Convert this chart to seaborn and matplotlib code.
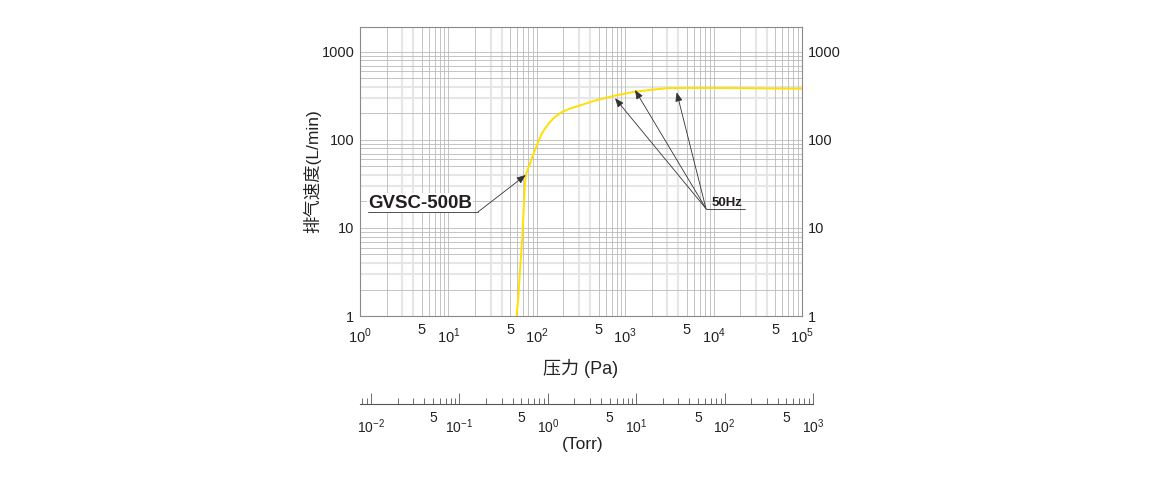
import numpy as np
import matplotlib
matplotlib.use("Agg")
import matplotlib.pyplot as plt
import seaborn as sns
from matplotlib.patches import ArrowStyle

# pump speed curve (Pa -> L/min)
pressure_pa = [59, 62, 64.6, 68.6, 71.6, 73.5, 76, 84, 95, 103, 114, 124, 141, 161, 191, 238,
               295, 455, 767, 1290, 2970, 7000, 20000, 100000]
speed_lpm = [1, 1.7, 3.3, 8, 19, 33, 42, 54, 77, 93, 118, 135, 160, 183, 207, 228,
             243, 280, 319, 354, 388, 390, 388, 382]

pa_decades = [1, 10, 100, 1000, 10000, 100000]
pa_decade_labels = [r"$10^{0}$", r"$10^{1}$", r"$10^{2}$", r"$10^{3}$", r"$10^{4}$", r"$10^{5}$"]
pa_fives = [5, 50, 500, 5000, 50000]
speed_ticks = [1, 10, 100, 1000]
speed_labels = ["1", "10", "100", "1000"]

torr_decades = [0.01, 0.1, 1, 10, 100, 1000]
torr_decade_labels = [r"$10^{-2}$", r"$10^{-1}$", r"$10^{0}$", r"$10^{1}$", r"$10^{2}$", r"$10^{3}$"]

model_name = "GVSC-500B"
freq_name = "50Hz"
# annotation anchors (data coords)
model_tail = (21.6, 15.2)
model_line_start = 1.23
model_tip = (75, 40)
freq_tail = (8200, 16.6)
freq_line_end = 22600
freq_tips = [(767, 298), (1290, 370), (3823, 348)]

sns.set_theme(style="white")
plt.rcParams["font.family"] = ["Liberation Sans", "Noto Sans CJK SC", "DejaVu Sans"]
plt.rcParams["mathtext.fontset"] = "custom"
plt.rcParams["mathtext.rm"] = "Liberation Sans"
plt.rcParams["axes.unicode_minus"] = True

fig = plt.figure(figsize=(11.6, 4.8), dpi=100)
ax = fig.add_axes([360 / 1160, 164 / 480, 442 / 1160, 289 / 480])
ax.set_xscale("log")
ax.set_yscale("log")
ax.set_xlim(1, 1e5)
ax.set_ylim(1, 1920)

# printed-style grid: 3x and 4x lines light and wide, the rest thin gray
light = dict(color="#e6e6e6", lw=1.5, zorder=0)
dark = dict(color="#bababa", lw=0.6, zorder=1)
for d in [1, 10, 100, 1000, 10000]:
    for m in range(1, 10):
        ax.axvline(d * m, **(light if m in (3, 4) else dark))
ax.axvline(1e5, **dark)
for d in [1, 10, 100]:
    for m in range(1, 10):
        ax.axhline(d * m, **(light if m in (3, 4) else dark))
ax.axhline(1000, **dark)

sns.lineplot(x=pressure_pa, y=speed_lpm, ax=ax, color="#ffe000", lw=1.4,
             estimator=None, sort=False, zorder=3)

for s in ax.spines.values():
    s.set_color("#8a8a8a")
    s.set_linewidth(0.8)

ax.set_xticks(pa_decades, pa_decade_labels)
ax.set_xticks(pa_fives, ["5"] * len(pa_fives), minor=True)
ax.set_yticks(speed_ticks, speed_labels)
ax.set_yticks([], minor=True)
ax.tick_params(axis="x", which="major", length=0, pad=8, labelsize=10.5, colors="#222222")
ax.tick_params(axis="x", which="minor", length=0, pad=5, labelsize=10.5, colors="#222222")
ax.tick_params(axis="y", which="major", length=0, pad=4, labelsize=10.5, colors="#222222",
               labelleft=True, labelright=True)

ax.set_ylabel("排气速度(L/min)", fontsize=12.5, color="#222222")
ax.yaxis.set_label_coords(-0.088, 0.5)
ax.set_xlabel("压力 (Pa)", fontsize=13, color="#222222")
ax.xaxis.set_label_coords(0.5, -0.15)

arrow = ArrowStyle("-|>", head_length=0.45, head_width=0.18)
aprops = dict(arrowstyle=arrow, lw=0.6, color="#333333", mutation_scale=12, shrinkA=0, shrinkB=0)

ax.text(model_line_start, 19.2, model_name, fontsize=13.5, fontweight="bold", color="#231f20",
        va="center", ha="left", zorder=4,
        bbox=dict(facecolor="white", edgecolor="none", pad=1))
ax.plot([model_line_start, model_tail[0]], [model_tail[1], model_tail[1]], color="#333333", lw=0.6, zorder=4)
ax.annotate("", xy=model_tip, xytext=model_tail, arrowprops=aprops, zorder=4)

ax.text(9600, 19.4, freq_name, fontsize=9.5, fontweight="bold", color="#231f20",
        va="center", ha="left", zorder=4)
ax.plot([freq_tail[0], freq_line_end], [freq_tail[1], freq_tail[1]], color="#333333", lw=0.6, zorder=4)
for tip in freq_tips:
    ax.annotate("", xy=tip, xytext=freq_tail, arrowprops=aprops, zorder=4)

# secondary Torr scale drawn as a separate bare axis
ax2 = fig.add_axes([360 / 1160, 76 / 480, 453 / 1160, 0.01])
ax2.set_xscale("log")
ax2.set_xlim(1 / 133.322, 1000)
ax2.patch.set_visible(False)
for side in ["left", "right", "top"]:
    ax2.spines[side].set_visible(False)
ax2.spines["bottom"].set_color("#555555")
ax2.spines["bottom"].set_linewidth(0.8)
ax2.set_yticks([])
minor_torr = []
minor_labels = []
for d in [0.001, 0.01, 0.1, 1, 10, 100]:
    for m in range(2, 10):
        if 1 / 133.322 <= d * m <= 1000:
            minor_torr.append(d * m)
            minor_labels.append("5" if m == 5 else "")
ax2.set_xticks(torr_decades, torr_decade_labels)
ax2.set_xticks(minor_torr, minor_labels, minor=True)
ax2.tick_params(axis="x", which="major", bottom=True, direction="in", length=8, width=0.6,
                color="#555555", pad=10, labelsize=10, labelcolor="#222222")
ax2.tick_params(axis="x", which="minor", bottom=True, direction="in", length=4, width=0.6,
                color="#555555", pad=5, labelsize=10, labelcolor="#222222")
ax2.set_xlabel("(Torr)", fontsize=12.5, color="#222222")
ax2.xaxis.set_label_coords(0.491, -6.9)

fig.savefig("out.png", dpi=100, facecolor="white")
